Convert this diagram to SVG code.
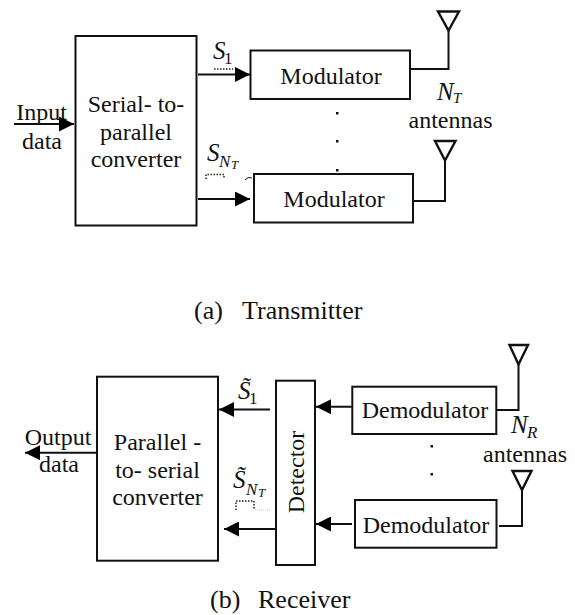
<svg xmlns="http://www.w3.org/2000/svg" width="575" height="615" viewBox="0 0 575 615">
<style>
text{font-family:"Liberation Serif","Times New Roman",serif;font-size:24px;fill:#111;text-anchor:middle}
.l{text-anchor:start;font-size:26px}
.m{font-style:italic;text-anchor:start;font-size:25px}
.s{font-style:italic;text-anchor:start;font-size:17px}
.t{font-style:italic;text-anchor:start;font-size:13px}
.n{font-style:normal}
.b{fill:#fff;stroke:#111;stroke-width:2}
.c{fill:none;stroke:#111;stroke-width:2}
.a{fill:none;stroke:#111;stroke-width:2.4}
.d{fill:none;stroke:#222;stroke-width:1.5;stroke-dasharray:1.5 1.5}
</style>
<defs>
<marker id="h" viewBox="0 0 15 15" refX="15" refY="7.5" markerWidth="15" markerHeight="15" markerUnits="userSpaceOnUse" orient="auto"><path d="M0 0L15 7.5L0 15Z" fill="#000"/></marker>
</defs>
<g id="serial-converter"><rect class="b" x="75.500" y="36" width="121" height="189.500"/><text x="136" y="112">Serial- to-</text><text x="136" y="140">parallel</text><text x="136" y="167">converter</text></g>
<g id="modulator-1"><rect class="b" x="250.500" y="50.500" width="159.500" height="48.500"/><text x="331" y="84">Modulator</text></g>
<g id="modulator-2"><rect class="b" x="254" y="174" width="159" height="48.500"/><text x="334" y="207">Modulator</text></g>
<g id="antenna-t1"><path class="a" d="M438 11.500H459L448.500 30.500Z"/></g>
<g id="antenna-t2"><path class="a" d="M435 141H455.500L445 160.500Z"/></g>
<g id="parallel-converter"><rect class="b" x="97" y="376.700" width="121" height="184"/><text x="157.500" y="450">Parallel -</text><text x="157.500" y="478">to- serial</text><text x="157.500" y="505">converter</text></g>
<g id="detector"><rect class="b" x="276" y="380.700" width="39" height="184.300"/><text transform="translate(304 472) rotate(-90)">Detector</text></g>
<g id="demodulator-1"><rect class="b" x="352.300" y="386.700" width="144" height="47.300"/><text x="425" y="418">Demodulator</text></g>
<g id="demodulator-2"><rect class="b" x="355" y="500" width="141.500" height="47.700"/><text x="426" y="533">Demodulator</text></g>
<g id="antenna-r1"><path class="a" d="M509.500 345H528L518.500 364.500Z"/></g>
<g id="antenna-r2"><path class="a" d="M512.500 471H531.500L522 490Z"/></g>
<g id="connectors">
<path class="c" d="M14 124H74" marker-end="url(#h)"/>
<path class="c" d="M198 74.500H250" marker-end="url(#h)"/>
<path class="c" d="M198 199H250" marker-end="url(#h)"/>
<path class="c" d="M410 69H448.500V31"/>
<path class="c" d="M413 201H445V161"/>
<path class="c" d="M97 452.700H25" marker-end="url(#h)"/>
<path class="c" d="M270 409.500H219" marker-end="url(#h)"/>
<path class="c" d="M276 529H224" marker-end="url(#h)"/>
<path class="c" d="M352 406.700H316" marker-end="url(#h)"/>
<path class="c" d="M352 524H316" marker-end="url(#h)"/>
<path class="c" d="M497 410H518.500V365"/>
<path class="c" d="M499 526H522V490"/>
</g>
<g id="labels">
<text x="41.500" y="120">Input</text><text x="42" y="149">data</text>
<text x="58" y="445">Output</text><text x="59" y="472">data</text>
<text class="m" x="213" y="59">S</text><text class="s n" x="224" y="64">1</text>
<text class="m" x="207" y="161">S</text><text class="s" x="219" y="167">N</text><text class="t" x="231" y="169">T</text>
<text class="m" x="238" y="399">S&#771;</text><text class="s n" x="249" y="404">1</text>
<text class="m" x="233" y="488">S&#771;</text><text class="s" x="246" y="495">N</text><text class="t" x="258" y="497">T</text>
<text class="m" x="437" y="100">N</text><text class="s" x="453" y="103" style="font-size:15px">T</text>
<text x="450.500" y="128">antennas</text>
<text class="m" x="511" y="433">N</text><text class="s" x="527" y="438">R</text>
<text x="525" y="462">antennas</text>
<text class="l" x="194" y="319">(a)</text><text class="l" x="242" y="319">Transmitter</text>
<text class="l" x="210" y="608">(b)</text><text class="l" x="258" y="608">Receiver</text>
<path d="M336 112h2.500v2.500h-2.500zM336 140h2.500v2.500h-2.500zM336 169h2.500v2.500h-2.500zM430.500 445h2.500v2.500h-2.500zM430.500 473h2.500v2.500h-2.500z" fill="#111"/>
<path class="d" d="M214 69H233M206 179V174.500H224V179"/>
<path class="d" d="M236 510V501H254V510"/>
<path d="M255 510H270" stroke="#ccc" stroke-width="1" stroke-dasharray="1 1" fill="none"/>
<path d="M245 180Q248 176 252 178" fill="none" stroke="#111" stroke-width="1"/>
</g>
</svg>
